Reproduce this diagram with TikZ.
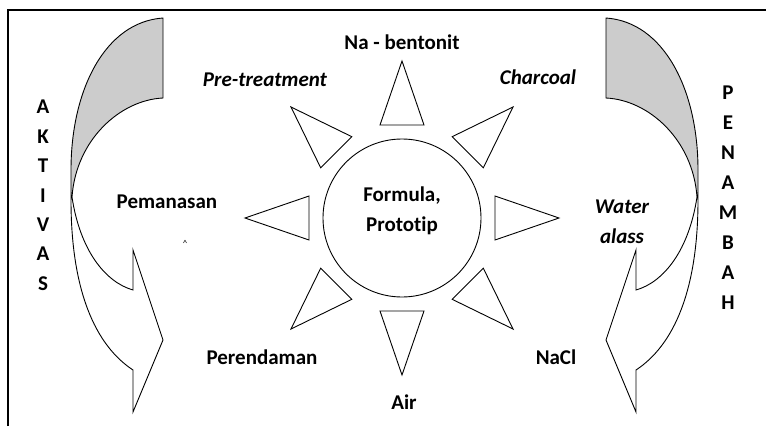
\documentclass[tikz,border=0pt]{standalone}
\usepackage{fontspec}
\setmainfont{Carlito}[Ligatures=NoCommon]
\usetikzlibrary{calc}

% one bent arrow, left hand version
\newcommand\bentarrow{%
  \fill[black!20] (163,18) -- (163,98) .. controls (120,100) and (76,140) .. (72,197)
    -- (71,197) -- (71,170) .. controls (71,90) and (105,22) .. (163,18);
  \draw (163,18) .. controls (105,22) and (71,90) .. (71,170) -- (71,200)
    .. controls (71,290) and (95,345) .. (133,370) -- (133,412) -- (163,340)
    -- (133,250) -- (133,290) .. controls (105,282) and (80,250) .. (72,197)
    .. controls (76,140) and (120,100) .. (163,98) -- cycle;}

\begin{document}
\begin{tikzpicture}[x=1pt,y=-1pt,line width=0.9pt,
  font=\fontsize{21}{29.5}\selectfont\bfseries,
  spike/.style={line join=miter},
  lbl/.style={inner sep=0pt}]
  \useasboundingbox (0,0) rectangle (766,426);
  \draw[line width=1.2pt] (8,426) -- (8,10) -- (766,10);

  \node[draw,circle,minimum size=158pt,align=center,inner sep=0pt] (proto) at (402,218) {};
  \node[lbl,align=center] (protolbl) at (402,211) {Formula,\\Prototip};
  \foreach \a in {0,45,...,315}
  {
    \begin{scope}[shift={(proto.center)},rotate=\a]
      \draw[spike] (93,-22) -- (157,0) -- (93,22) -- cycle;
    \end{scope}
  }

  \node[lbl] (nabent) at (402,42) {Na - bentonit};
  \node[lbl,anchor=base] (pretreat) at (265,86) {\itshape Pre-treatment};
  \node[lbl,anchor=base] (charcoal) at (538,84) {\itshape Charcoal};
  \node[lbl] (pemanasan) at (167,202) {Pemanasan};
  \node[lbl,font=\fontsize{9}{9}\selectfont] (stray) at (185,243) {\textasciicircum};
  \node[lbl,align=center] (waterglass) at (622,222) {\itshape Water\\\itshape alass};
  \node[lbl] (perendaman) at (262,357) {Perendaman};
  \node[lbl] (nacl) at (556,357) {NaCl};
  \node[lbl] (air) at (404,402) {Air};

  \foreach \l [count=\i] in {A,K,T,I,V,A,S}
    \node[lbl] (aktivas\i) at (43,{107+29.4*(\i-1)}) {\l};
  \foreach \l [count=\i] in {P,E,N,A,M,B,A,H}
    \node[lbl] (penambah\i) at (728,{93+30*(\i-1)}) {\l};

  \bentarrow
  \begin{scope}[xshift=769pt,xscale=-1]
    \bentarrow
  \end{scope}
\end{tikzpicture}
\end{document}
